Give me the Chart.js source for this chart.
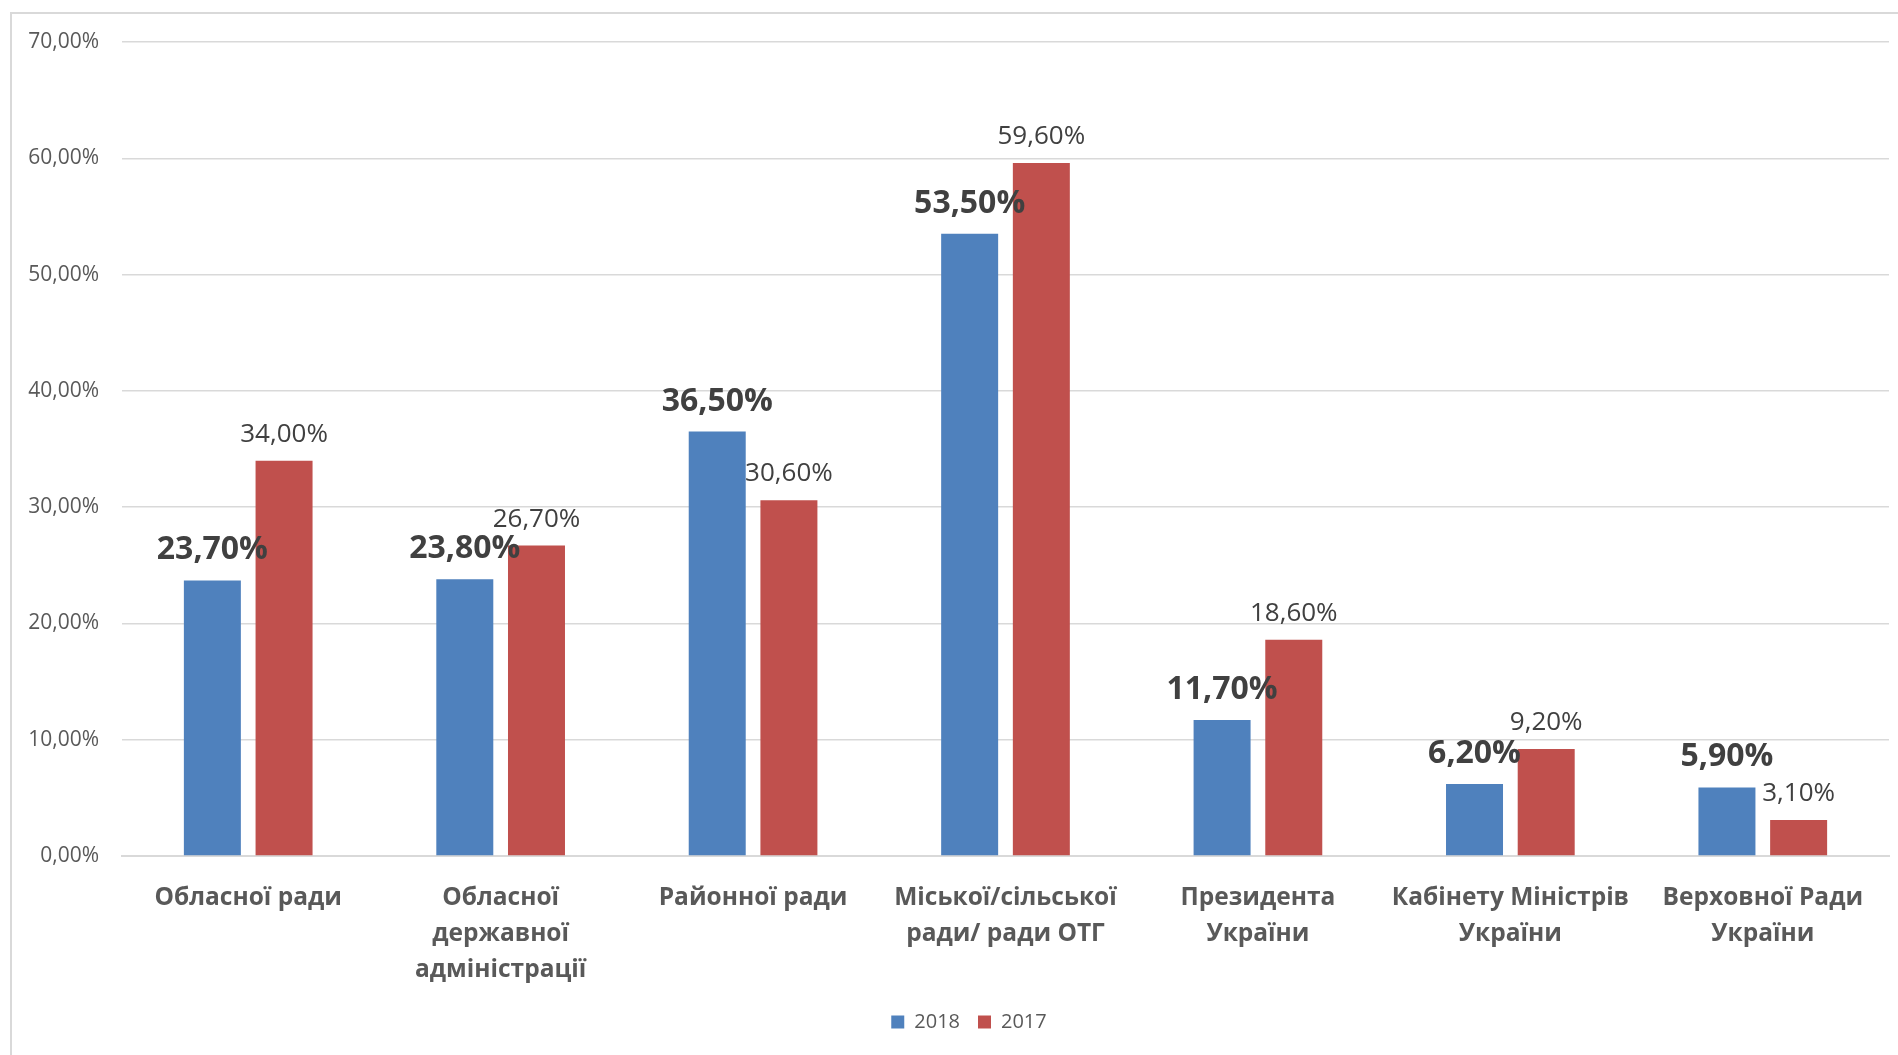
<!DOCTYPE html>
<html>
<head>
<meta charset="utf-8">
<script src="https://cdn.jsdelivr.net/npm/chart.js@4"></script>
<style>
  html, body { margin: 0; padding: 0; background: #ffffff; overflow: hidden; }
  #wrap { position: relative; width: 1898px; height: 1055px; }
  #frame { position: absolute; left: 10px; top: 12px; width: 1950px; height: 1100px;
           border-left: 2px solid #d9d9d9; border-top: 2px solid #d9d9d9; }
  #c { position: absolute; left: 0; top: 0; }
</style>
</head>
<body>
<div id="wrap">
  <div id="frame"></div>
  <canvas id="c" width="1898" height="1055"></canvas>
</div>
<script>
const categories = [
  "Обласної ради",
  ["Обласної", "державної", "адміністрації"],
  "Районної ради",
  ["Міської/сільської", "ради/ ради ОТГ"],
  ["Президента", "України"],
  ["Кабінету Міністрів", "України"],
  ["Верховної Ради", "України"]
];
const seriesNames = ["2018", "2017"];
const values2018 = [23.7, 23.8, 36.5, 53.5, 11.7, 6.2, 5.9];
const values2017 = [34.0, 26.7, 30.6, 59.6, 18.6, 9.2, 3.1];
const yTicks = [0, 10, 20, 30, 40, 50, 60, 70];

const FONT = "'Open Sans', 'Noto Sans', sans-serif";
const fmt = v => v.toFixed(2).replace('.', ',') + '%';

const dataLabels = {
  id: 'dataLabels',
  afterDatasetsDraw(chart) {
    const ctx = chart.ctx;
    const styles = [
      { font: 'bold 32px ' + FONT, offset: 21 },
      { font: '26px ' + FONT, offset: 19 }
    ];
    chart.data.datasets.forEach((ds, di) => {
      const meta = chart.getDatasetMeta(di);
      const st = styles[di];
      ctx.save();
      ctx.font = st.font;
      ctx.fillStyle = '#404040';
      ctx.textAlign = 'center';
      ctx.textBaseline = 'alphabetic';
      meta.data.forEach((bar, i) => {
        ctx.fillText(fmt(ds.data[i]), bar.x, bar.y - st.offset);
      });
      ctx.restore();
    });
  }
};

// shift the legend block so it is centred where the reference has it
const legendShift = {
  id: 'legendShift',
  afterLayout(chart) {
    if (chart.legend) { chart.legend.left += 49; }
  }
};

new Chart(document.getElementById('c'), {
  type: 'bar',
  data: {
    labels: categories,
    datasets: [
      { label: seriesNames[0], data: values2018, backgroundColor: '#4F81BD',
        categoryPercentage: 0.568, barPercentage: 0.795 },
      { label: seriesNames[1], data: values2017, backgroundColor: '#C0504D',
        categoryPercentage: 0.568, barPercentage: 0.795 }
    ]
  },
  options: {
    responsive: false,
    animation: false,
    devicePixelRatio: 1,
    layout: { padding: { left: 0, right: 9, top: 42, bottom: 13 } },
    plugins: {
      tooltip: { enabled: false },
      legend: {
        position: 'bottom',
        labels: {
          boxWidth: 13, boxHeight: 13, padding: 18,
          color: '#595959',
          font: { family: FONT, size: 20 }
        }
      }
    },
    scales: {
      x: {
        grid: { display: false },
        border: { display: true, color: '#d9d9d9', width: 2 },
        ticks: {
          color: '#595959',
          padding: 16,
          maxRotation: 0, minRotation: 0, autoSkip: false,
          font: { family: FONT, size: 24.5, weight: 'bold', lineHeight: 36 / 24.5 }
        },
        afterFit: s => { s.height = 138; }
      },
      y: {
        min: 0, max: 70,
        afterBuildTicks: s => { s.ticks = yTicks.map(v => ({ value: v })); },
        grid: { color: '#d9d9d9', lineWidth: 1.5, drawTicks: false },
        border: { display: false },
        ticks: {
          color: '#595959',
          padding: 23,
          font: { family: FONT, size: 21 },
          callback: v => fmt(v)
        },
        afterFit: s => { s.width = 122; }
      }
    }
  },
  plugins: [dataLabels, legendShift]
});
</script>
</body>
</html>
